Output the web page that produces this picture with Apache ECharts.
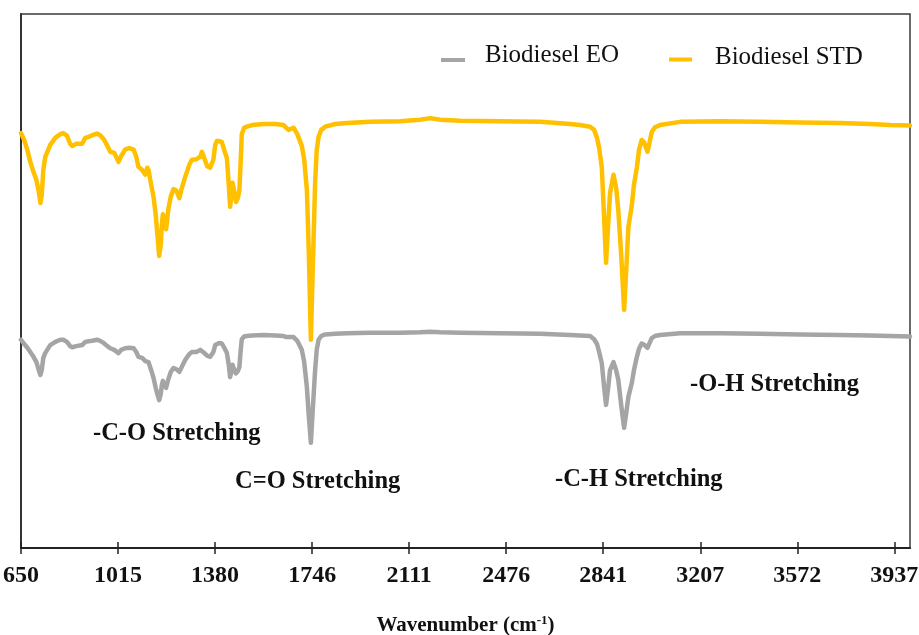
<!DOCTYPE html>
<html>
<head>
<meta charset="utf-8">
<script src="https://cdn.jsdelivr.net/npm/echarts@6/dist/echarts.min.js"></script>
<style>
html,body{margin:0;padding:0;background:#fff;}
#chart{width:919px;height:635px;}
</style>
</head>
<body>
<div id="chart"></div>
<script>
// Wavenumber (cm-1) of each sampled point
const wavenumber = [
  650, 662, 674, 685, 697, 708, 717, 723, 728, 734,
  741, 760, 779, 798, 809, 823, 835, 843, 858, 880,
  892, 904, 918, 936, 948, 961, 975, 986, 1001, 1017,
  1027, 1042, 1057, 1074, 1084, 1092, 1106, 1118, 1125, 1130,
  1140, 1149, 1157, 1165, 1170, 1176, 1180, 1184, 1189, 1196,
  1204, 1214, 1224, 1234, 1246, 1253, 1268, 1283, 1293, 1310,
  1325, 1331, 1340, 1351, 1362, 1374, 1381, 1387, 1396, 1406,
  1415, 1425, 1432, 1437, 1442, 1446, 1453, 1459, 1466, 1472,
  1477, 1481, 1490, 1500, 1520, 1563, 1607, 1638, 1648, 1657,
  1676, 1690, 1707, 1716, 1726, 1733, 1741, 1748, 1757, 1763,
  1770, 1780, 1795, 1833, 1877, 1964, 2077, 2152, 2190, 2228,
  2303, 2453, 2604, 2717, 2754, 2792, 2807, 2818, 2826, 2836,
  2845, 2852, 2860, 2867, 2880, 2890, 2898, 2909, 2920, 2927,
  2936, 2949, 2957, 2968, 2976, 2986, 2995, 3008, 3016, 3024,
  3036, 3055, 3131, 3281, 3431, 3582, 3732, 3845, 3921, 3996
];
// Biodiesel STD transmittance (arbitrary %, offset spectrum)
const stdValues = [
  77.7, 76.4, 74.5, 72.3, 70.4, 68.9, 66.7, 64.6, 66.1, 70.8,
  73.2, 75.5, 76.8, 77.5, 77.7, 77.2, 75.7, 75.3, 75.7, 75.7,
  76.8, 77.0, 77.3, 77.6, 77.3, 76.6, 75.3, 74.2, 74.0, 72.3,
  73.4, 74.6, 74.9, 74.6, 73.2, 71.4, 70.8, 69.9, 71.2, 70.8,
  68.0, 65.7, 62.4, 57.7, 54.7, 56.7, 60.5, 62.5, 61.0, 59.7,
  63.3, 65.9, 67.2, 67.0, 65.5, 67.0, 69.5, 71.7, 72.7, 72.8,
  73.3, 74.2, 73.0, 71.5, 71.2, 72.7, 75.5, 76.2, 76.2, 76.0,
  74.5, 73.0, 68.0, 63.9, 66.1, 68.4, 66.7, 64.8, 65.5, 67.0,
  72.7, 77.5, 78.7, 78.9, 79.2, 79.4, 79.4, 79.2, 78.7, 78.3,
  78.7, 77.5, 75.3, 72.7, 67.0, 55.8, 39.0, 52.1, 68.4, 74.5,
  77.0, 78.3, 78.9, 79.4, 79.6, 79.8, 79.9, 80.2, 80.5, 80.2,
  80.0, 79.9, 79.8, 79.4, 79.2, 78.9, 78.3, 76.8, 74.9, 71.3,
  61.4, 53.4, 60.5, 66.5, 69.9, 67.4, 63.3, 54.9, 44.6, 51.1,
  60.1, 64.2, 68.0, 71.3, 74.5, 76.4, 76.0, 74.2, 76.0, 77.9,
  78.8, 79.2, 79.8, 79.9, 79.8, 79.7, 79.6, 79.4, 79.2, 79.1
];
// Biodiesel EO transmittance (arbitrary %)
const eoValues = [
  39.0, 38.2, 37.5, 36.7, 35.8, 34.8, 33.3, 32.4, 33.3, 35.6,
  36.5, 38.0, 38.6, 39.0, 39.0, 38.6, 37.8, 37.6, 37.8, 38.0,
  38.6, 38.7, 38.8, 39.0, 38.8, 38.4, 37.8, 37.4, 37.1, 36.5,
  37.1, 37.4, 37.5, 37.4, 36.7, 35.8, 35.6, 35.0, 35.2, 34.8,
  33.3, 31.8, 30.0, 28.5, 27.7, 28.8, 30.5, 31.3, 30.5, 30.0,
  31.5, 33.0, 33.7, 33.5, 33.0, 33.7, 35.2, 36.3, 36.7, 36.7,
  37.1, 37.1, 36.5, 36.0, 35.8, 36.7, 38.0, 38.3, 38.4, 38.3,
  37.5, 36.5, 34.3, 32.0, 33.1, 34.3, 33.3, 32.7, 33.1, 33.9,
  37.1, 39.1, 39.6, 39.7, 39.8, 39.9, 39.8, 39.7, 39.5, 39.5,
  39.5, 38.8, 37.1, 34.8, 30.1, 24.9, 19.7, 25.8, 33.3, 37.1,
  39.0, 39.7, 40.0, 40.1, 40.2, 40.3, 40.3, 40.4, 40.5, 40.4,
  40.3, 40.2, 40.1, 39.9, 39.8, 39.7, 39.1, 38.2, 36.7, 34.6,
  30.0, 26.8, 30.0, 33.3, 34.8, 33.3, 31.5, 26.8, 22.5, 24.9,
  28.3, 30.9, 33.3, 35.8, 37.3, 38.3, 38.1, 37.5, 38.4, 39.3,
  39.7, 39.9, 40.2, 40.2, 40.1, 40.0, 39.9, 39.8, 39.7, 39.6
];
const tickValues = [650, 1015, 1380, 1746, 2111, 2476, 2841, 3207, 3572, 3937];
const seriesNames = ['Biodiesel EO', 'Biodiesel STD'];
const annotations = [
  {text: '-C-O Stretching', x: 93, y: 434},
  {text: 'C=O Stretching', x: 235, y: 482},
  {text: '-C-H Stretching', x: 555, y: 480},
  {text: '-O-H Stretching', x: 690, y: 385}
];

const serif = '"Liberation Serif", "Times New Roman", serif';
const chart = echarts.init(document.getElementById('chart'), null, {renderer: 'canvas'});

const xCommon = {type: 'value', min: 650, max: 3996, gridIndex: 0, splitLine: {show: false}};

const option = {
  animation: false,
  backgroundColor: '#ffffff',
  grid: {left: 21, right: 9, top: 14, bottom: 87, show: true, borderColor: '#3a3a3a', borderWidth: 1.5,
         backgroundColor: 'transparent', containLabel: false, outerBoundsMode: 'none'},
  legend: [
    {data: [seriesNames[0]], left: 436, top: 38, itemWidth: 24, itemHeight: 13,
     icon: 'path://M0,0 L0.05,0 L0.05,0.05 Z M0,9 L24,9 L24,13 L0,13 Z',
     textStyle: {fontFamily: serif, fontSize: 25, color: '#111', padding: [0, 0, 0, 15]}},
    {data: [seriesNames[1]], left: 664, top: 39.5, itemWidth: 23, itemHeight: 9,
     icon: 'path://M0,0 L0.05,0 L0.05,0.05 Z M0,5 L23,5 L23,9 L0,9 Z',
     textStyle: {fontFamily: serif, fontSize: 25, color: '#111', padding: [0, 0, 0, 18]}}
  ],
  xAxis: [
    Object.assign({}, xCommon, {
      position: 'bottom',
      axisLine: {show: true, onZero: false, lineStyle: {color: '#222', width: 2}},
      axisTick: {show: true, inside: false, length: 6, customValues: tickValues, lineStyle: {color: '#222', width: 1.5}},
      axisLabel: {show: true, customValues: tickValues, formatter: v => String(Math.round(v)),
                  fontFamily: serif, fontWeight: 'bold', fontSize: 24, color: '#111', margin: 16},
      name: '{b|Wavenumber (cm}{s|-1}{b|)}',
      nameLocation: 'middle',
      nameGap: 66,
      nameTextStyle: {
        rich: {
          b: {fontFamily: serif, fontWeight: 'bold', fontSize: 21, color: '#111', lineHeight: 24},
          s: {fontFamily: serif, fontWeight: 'bold', fontSize: 13, color: '#111', lineHeight: 14, verticalAlign: 'top'}
        }
      }
    }),
    Object.assign({}, xCommon, {
      position: 'bottom',
      axisLine: {show: false},
      axisTick: {show: true, inside: true, length: 6, customValues: tickValues, lineStyle: {color: '#222', width: 1.5}},
      axisLabel: {show: false}
    })
  ],
  yAxis: {
    type: 'value', min: 0, max: 100,
    axisLine: {show: true, lineStyle: {color: '#333', width: 2}},
    axisTick: {show: false}, axisLabel: {show: false}, splitLine: {show: false}
  },
  series: [
    {name: seriesNames[0], type: 'line', showSymbol: false, symbol: 'none',
     data: wavenumber.map((w, i) => [w, eoValues[i]]),
     color: '#A5A5A5', lineStyle: {color: '#A5A5A5', width: 4.5, join: 'round', cap: 'round'}},
    {name: seriesNames[1], type: 'line', showSymbol: false, symbol: 'none',
     data: wavenumber.map((w, i) => [w, stdValues[i]]),
     color: '#FFC000', lineStyle: {color: '#FFC000', width: 4.5, join: 'round', cap: 'round'}}
  ],
  graphic: annotations.map(a => ({
    type: 'text', x: a.x, y: a.y, silent: true,
    style: {text: a.text, fontFamily: serif, fontWeight: 'bold', fontSize: 24.5, fill: '#111', align: 'left', verticalAlign: 'middle'}
  }))
};
chart.setOption(option);
</script>
</body>
</html>
